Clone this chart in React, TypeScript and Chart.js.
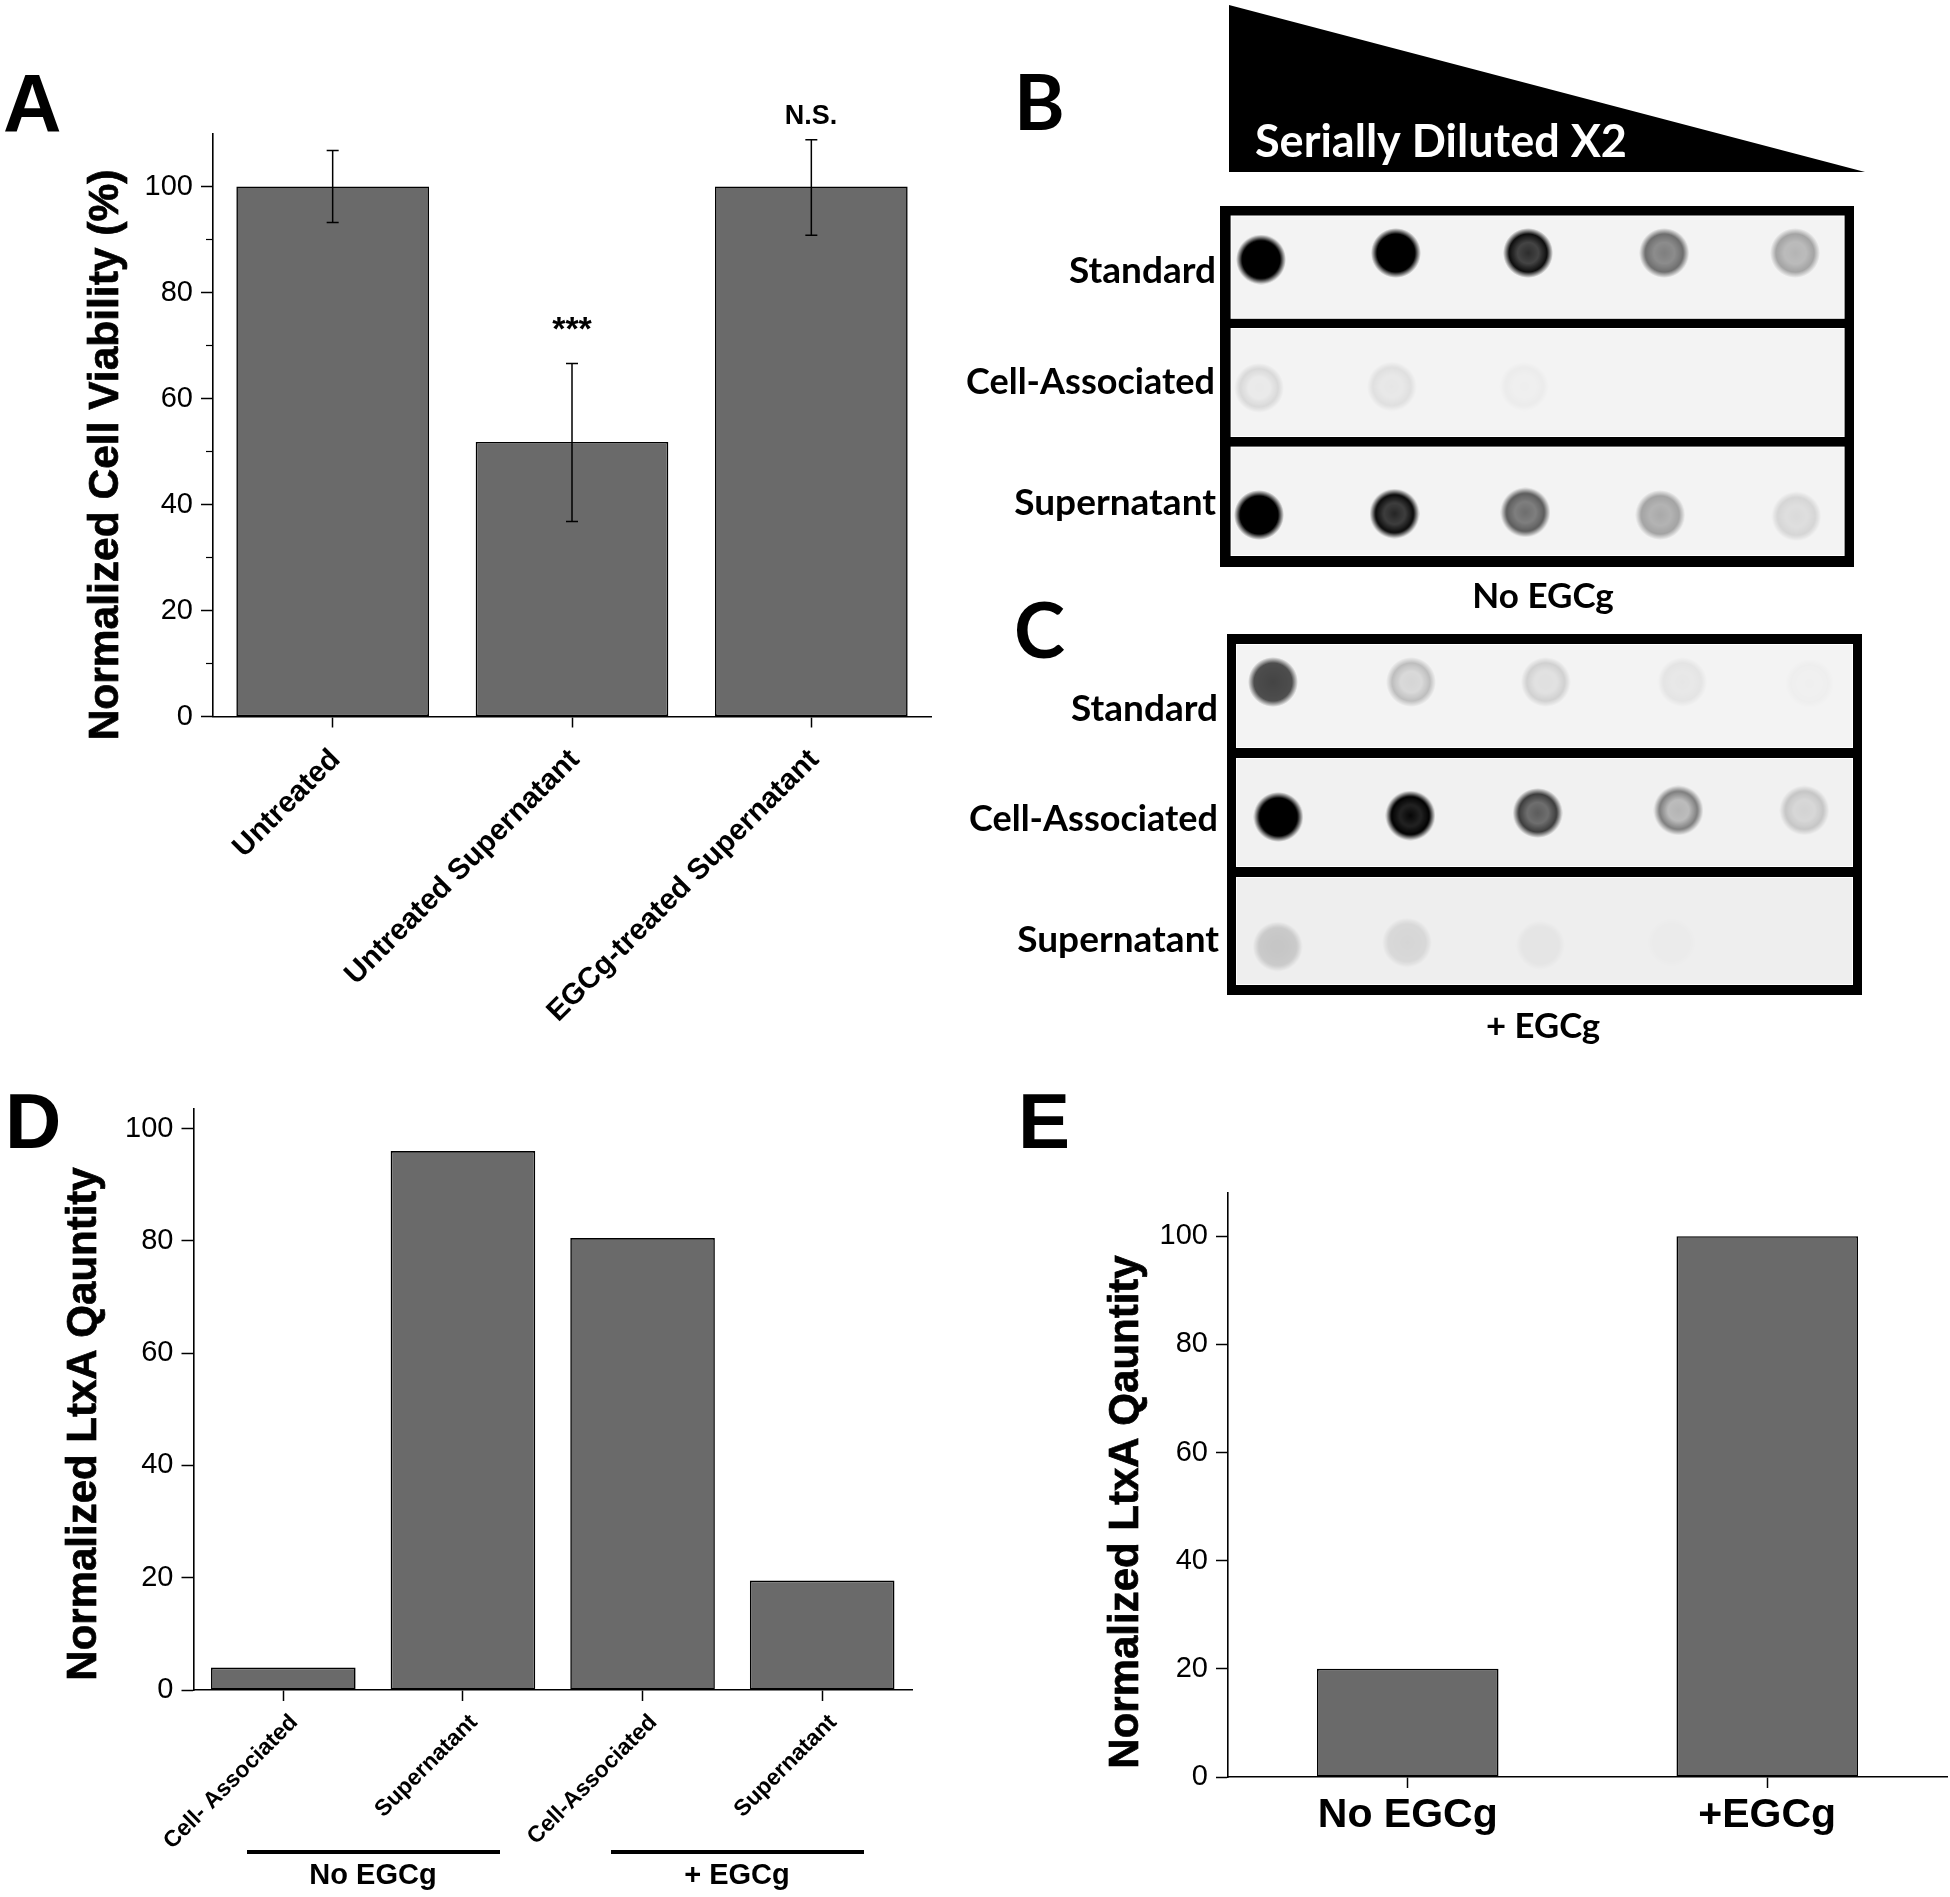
import React, { useEffect, useRef } from "react";
import { Chart, registerables } from "chart.js";

Chart.register(...registerables);

// ---------- Panel A ----------
const viabilityCategories = ["Untreated", "Untreated Supernatant", "EGCg-treated Supernatant"];
const viabilityValues = [100, 51.8, 100];
const viabilityErrLow = [93.2, 36.8, 90.8];
const viabilityErrHigh = [106.8, 66.6, 108.8];
const viabilityMinorTicks = [10, 30, 50, 70, 90];

// ---------- Panel D ----------
const fractionCategories = ["Cell- Associated", "Supernatant", "Cell-Associated", "Supernatant"];
const fractionValues = [4, 96, 80.5, 19.5];

// ---------- Panel E ----------
const totalCategories = ["No EGCg", "+EGCg"];
const totalValues = [20, 100];

// ---------- Panels B, C: dot blots (x = dilution step, y = row) ----------
const bStandardX = [1.0, 2.01, 3.0, 4.02, 5.0];
const bStandardY = [1.05, 1.0, 1.0, 1.0, 1.0];
const bStandardCore = [1, 1, 0.82, 0.48, 0.26];
const bStandardRim = [1, 1, 0.95, 0.55, 0.33];

const bCellX = [0.985, 1.98, 2.97];
const bCellY = [2.03, 2.02, 2.02];
const bCellCore = [0.04, 0.05, 0.02];
const bCellRim = [0.11, 0.08, 0.03];

const bSuperX = [0.985, 2.0, 2.98, 3.99, 5.01];
const bSuperY = [3.0, 2.99, 2.98, 3.0, 3.01];
const bSuperCore = [1, 0.85, 0.55, 0.3, 0.1];
const bSuperRim = [1, 0.96, 0.62, 0.33, 0.12];

const cStandardX = [0.985, 2.015, 3.02, 4.04, 4.99];
const cStandardY = [1, 1, 1, 1, 1.01];
const cStandardCore = [0.72, 0.12, 0.08, 0.05, 0.015];
const cStandardRim = [0.68, 0.22, 0.14, 0.06, 0.02];

const cCellX = [1.025, 2.01, 2.96, 4.01, 4.95];
const cCellY = [2.03, 2.02, 2.0, 1.98, 1.98];
const cCellCore = [1, 0.98, 0.62, 0.25, 0.12];
const cCellRim = [1, 1, 0.75, 0.48, 0.18];

const cSuperX = [1.02, 1.985, 2.98, 3.955];
const cSuperY = [3.02, 2.99, 3.01, 2.99];
const cSuperCore = [0.17, 0.1, 0.035, 0.01];
const cSuperRim = [0.15, 0.09, 0.035, 0.01];

const BAR_GREY = "#6a6a6a";
const ARIAL = '"Liberation Sans", Arial, sans-serif';
const LATO = 'Lato, "Open Sans", sans-serif';

type Label = {
  t: string; x: number; y: number; font: string; align?: CanvasTextAlign;
  rot?: number; color?: string; maxW?: number; stroke?: number;
};

type Box = { x: number; y: number; w: number; h: number };

const textPlugin = {
  id: "pageTexts",
  afterDraw(chart: any, _a: any, opts: any) {
    const { ctx } = chart;
    const box: Box = opts.box;
    (opts.items as Label[]).forEach((l) => {
      ctx.save();
      ctx.translate(l.x - box.x, l.y - box.y);
      if (l.rot) ctx.rotate(l.rot);
      ctx.font = l.font;
      ctx.fillStyle = l.color || "#000";
      ctx.textAlign = l.align || "left";
      ctx.textBaseline = "alphabetic";
      if (l.stroke) {
        ctx.strokeStyle = l.color || "#000";
        ctx.lineWidth = l.stroke;
        ctx.strokeText(l.t, 0, 0);
      }
      if (l.maxW) ctx.fillText(l.t, 0, 0, l.maxW);
      else ctx.fillText(l.t, 0, 0);
      ctx.restore();
    });
  },
};

const errorBarPlugin = {
  id: "errorBars",
  afterDatasetsDraw(chart: any, _a: any, opts: any) {
    if (!opts.low) return;
    const { ctx, scales } = chart;
    ctx.save();
    ctx.strokeStyle = "#000";
    ctx.lineWidth = 1.5;
    (opts.low as number[]).forEach((lo, i) => {
      const x = scales.x.getPixelForTick(i);
      const y1 = scales.y.getPixelForValue(lo);
      const y2 = scales.y.getPixelForValue(opts.high[i]);
      ctx.beginPath();
      ctx.moveTo(x, y1); ctx.lineTo(x, y2);
      ctx.moveTo(x - 6, y1); ctx.lineTo(x + 6, y1);
      ctx.moveTo(x - 6, y2); ctx.lineTo(x + 6, y2);
      ctx.stroke();
    });
    ctx.restore();
  },
};

const minorTickPlugin = {
  id: "minorTicks",
  afterDraw(chart: any, _a: any, opts: any) {
    if (!opts.values) return;
    const { ctx, scales, chartArea } = chart;
    ctx.save();
    ctx.strokeStyle = "#000";
    ctx.lineWidth = 1.2;
    (opts.values as number[]).forEach((v) => {
      const y = scales.y.getPixelForValue(v);
      ctx.beginPath();
      ctx.moveTo(chartArea.left - 7, y);
      ctx.lineTo(chartArea.left, y);
      ctx.stroke();
    });
    ctx.restore();
  },
};

const shapesPlugin = {
  id: "pageShapes",
  beforeDatasetsDraw(chart: any, _a: any, opts: any) {
    const { ctx } = chart;
    const box: Box = opts.box;
    ctx.save();
    ctx.translate(-box.x, -box.y);
    (opts.polys || []).forEach((p: number[]) => {
      ctx.fillStyle = "#000";
      ctx.beginPath();
      ctx.moveTo(p[0], p[1]);
      for (let i = 2; i < p.length; i += 2) ctx.lineTo(p[i], p[i + 1]);
      ctx.closePath();
      ctx.fill();
    });
    (opts.rects || []).forEach((r: any) => {
      ctx.fillStyle = r.c;
      ctx.fillRect(r.x, r.y, r.w, r.h);
      if (r.strip) {
        ctx.fillStyle = r.strip;
        ctx.fillRect(r.x + 1, r.y + 1, r.w - 2, r.h - 2);
      }
    });
    ctx.restore();
  },
};

function spotSprite(core: number, rim: number): HTMLCanvasElement {
  const R = 25;
  const c = document.createElement("canvas");
  c.width = c.height = R * 2;
  const g = c.getContext("2d")!;
  const grad = g.createRadialGradient(R, R, 0, R, R, R);
  // spots whose centre is paler than the rim show a paler ring between them
  const mid = core < rim ? Math.min(core, rim) * 0.88 : (core + rim) / 2;
  grad.addColorStop(0, `rgba(0,0,0,${core})`);
  grad.addColorStop(0.42, `rgba(0,0,0,${mid})`);
  grad.addColorStop(0.76, `rgba(0,0,0,${rim})`);
  grad.addColorStop(1, "rgba(0,0,0,0)");
  g.fillStyle = grad;
  g.beginPath();
  g.arc(R, R, R, 0, Math.PI * 2);
  g.fill();
  return c;
}

function rowDataset(label: string, xs: number[], ys: number[], core: number[], rim: number[]) {
  return {
    label,
    data: xs.map((x, i) => ({ x, y: ys[i] })),
    pointStyle: xs.map((_, i) => spotSprite(core[i], rim[i])),
    pointRadius: 25,
    showLine: false,
  };
}

function axisTitle(t: string, x: number, y: number, size: number): Label {
  return { t, x, y, font: `bold ${size}px ${ARIAL}`, align: "center", rot: -Math.PI / 2, stroke: 0.7 };
}

function barChart(
  canvas: HTMLCanvasElement,
  box: Box,
  area: { l: number; t: number; r: number; b: number },
  data: { labels: string[]; values: number[]; yMax: number; barPct: number },
  style: { tickFont: any; rotation: number; tickPadX: number; tickLen: number; labelOffset: number; xHeight: number },
  texts: Label[],
  extra: any,
) {
  const Y_W = 80;
  const X_H = style.xHeight;
  return new Chart(canvas, {
    type: "bar",
    data: {
      labels: data.labels,
      datasets: [{
        data: data.values,
        backgroundColor: BAR_GREY,
        borderColor: "#000",
        borderWidth: 1.6,
        borderSkipped: false,
        barPercentage: data.barPct,
        categoryPercentage: 1,
      }],
    },
    options: {
      animation: false,
      responsive: false,
      layout: {
        padding: {
          left: area.l - box.x - Y_W,
          top: area.t - box.y,
          right: box.x + box.w - area.r,
          bottom: box.y + box.h - area.b - X_H,
        },
      },
      plugins: {
        legend: { display: false },
        tooltip: { enabled: false },
        pageTexts: { box, items: texts },
        pageShapes: { box, rects: extra.rects || [] },
        errorBars: { low: extra.low, high: extra.high },
        minorTicks: { values: extra.minor },
      } as any,
      scales: {
        x: {
          afterFit: (s: any) => { s.height = X_H; },
          grid: { offset: false, drawOnChartArea: false, tickLength: style.tickLen, tickColor: "#000", tickWidth: 1.5 },
          border: { color: "#000", width: 1.6 },
          ticks: {
            color: "#000",
            font: style.tickFont,
            autoSkip: false,
            minRotation: style.rotation,
            maxRotation: style.rotation,
            padding: style.tickPadX,
            labelOffset: style.labelOffset,
          },
        },
        y: {
          min: 0,
          max: data.yMax,
          afterFit: (s: any) => { s.width = Y_W; },
          grid: { drawOnChartArea: false, tickLength: 12, tickColor: "#000", tickWidth: 1.5 },
          border: { color: "#000", width: 1.6 },
          ticks: {
            color: "#000",
            stepSize: 20,
            includeBounds: false,
            padding: 8,
            font: { family: ARIAL, size: 29 },
          },
        },
      } as any,
    },
    plugins: [textPlugin, errorBarPlugin, minorTickPlugin, shapesPlugin],
  } as any);
}

function blotChart(
  canvas: HTMLCanvasElement,
  box: Box,
  inner: { l: number; t: number; r: number; b: number },
  range: { xMin: number; xMax: number; yMin: number; yMax: number },
  datasets: any[],
  shapes: { polys?: number[][]; rects: any[] },
  texts: Label[],
) {
  return new Chart(canvas, {
    type: "scatter",
    data: { datasets },
    options: {
      animation: false,
      responsive: false,
      layout: {
        padding: {
          left: inner.l - box.x,
          top: inner.t - box.y,
          right: box.x + box.w - inner.r,
          bottom: box.y + box.h - inner.b,
        },
      },
      plugins: {
        legend: { display: false },
        tooltip: { enabled: false },
        pageTexts: { box, items: texts },
        pageShapes: { box, ...shapes },
      } as any,
      scales: {
        x: { type: "linear", display: false, min: range.xMin, max: range.xMax },
        y: { type: "linear", display: false, min: range.yMin, max: range.yMax, reverse: true },
      },
    },
    plugins: [textPlugin, shapesPlugin],
  } as any);
}

const STRIP = "#f3f3f3";
const EDGE = "#ffffff";

const boxes: Record<string, Box> = {
  a: { x: 0, y: 0, w: 960, h: 1060 },
  b: { x: 960, y: 0, w: 990, h: 622 },
  c: { x: 960, y: 590, w: 990, h: 470 },
  d: { x: 0, y: 1060, w: 955, h: 837 },
  e: { x: 960, y: 1060, w: 990, h: 837 },
};

export default function App() {
  const refs = {
    a: useRef<HTMLCanvasElement>(null),
    b: useRef<HTMLCanvasElement>(null),
    c: useRef<HTMLCanvasElement>(null),
    d: useRef<HTMLCanvasElement>(null),
    e: useRef<HTMLCanvasElement>(null),
  };

  useEffect(() => {
    const charts: Chart[] = [];
    const labelBold = (s: number) => `bold ${s}px ${ARIAL}`;
    const lato = (s: number) => `bold ${s}px ${LATO}`;

    charts.push(barChart(
      refs.a.current!, boxes.a,
      { l: 213, t: 133.5, r: 931, b: 716.5 },
      { labels: viabilityCategories, values: viabilityValues, yMax: 110, barPct: 0.805 },
      { tickFont: { family: ARIAL, size: 29.5, weight: "bold" }, rotation: 45, tickPadX: 15, tickLen: 11, labelOffset: 3, xHeight: 320 },
      [
        { t: "A", x: 3, y: 131, font: labelBold(81) },
        axisTitle("Normalized Cell Viability (%)", 118, 455, 42.5),
        { t: "N.S.", x: 811, y: 124, font: labelBold(27), align: "center" },
        { t: "***", x: 572, y: 340, font: labelBold(34), align: "center" },
      ],
      { low: viabilityErrLow, high: viabilityErrHigh, minor: viabilityMinorTicks },
    ) as any);

    charts.push(blotChart(
      refs.b.current!, boxes.b,
      { l: 1230.6, t: 215.5, r: 1844.7, b: 556 },
      { xMin: 0.772, xMax: 5.372, yMin: 0.714, yMax: 3.313 },
      [
        rowDataset("Standard", bStandardX, bStandardY, bStandardCore, bStandardRim),
        rowDataset("Cell-Associated", bCellX, bCellY, bCellCore, bCellRim),
        rowDataset("Supernatant", bSuperX, bSuperY, bSuperCore, bSuperRim),
      ],
      {
        polys: [[1229, 5, 1229, 172, 1865, 172]],
        rects: [
          { x: 1220, y: 206, w: 634, h: 361, c: "#000" },
          { x: 1230.6, y: 215.5, w: 614, h: 103.3, c: EDGE, strip: STRIP },
          { x: 1230.6, y: 328, w: 614, h: 109, c: EDGE, strip: STRIP },
          { x: 1230.6, y: 446.6, w: 614, h: 109.4, c: EDGE, strip: STRIP },
        ],
      },
      [
        { t: "B", x: 1014, y: 130, font: lato(77) },
        { t: "Serially Diluted X2", x: 1255, y: 157, font: lato(45), color: "#fff", maxW: 374 },
        { t: "Standard", x: 1216, y: 283, font: lato(37), align: "right", maxW: 149 },
        { t: "Cell-Associated", x: 1215, y: 394, font: lato(37), align: "right", maxW: 249 },
        { t: "Supernatant", x: 1216, y: 515, font: lato(37), align: "right", maxW: 204 },
        { t: "No EGCg", x: 1543, y: 608, font: lato(35), align: "center", maxW: 142 },
      ],
    ) as any);

    charts.push(blotChart(
      refs.c.current!, boxes.c,
      { l: 1236, t: 644, r: 1853, b: 985 },
      { xMin: 0.709, xMax: 5.313, yMin: 0.71, yMax: 3.313 },
      [
        rowDataset("Standard", cStandardX, cStandardY, cStandardCore, cStandardRim),
        rowDataset("Cell-Associated", cCellX, cCellY, cCellCore, cCellRim),
        rowDataset("Supernatant", cSuperX, cSuperY, cSuperCore, cSuperRim),
      ],
      {
        rects: [
          { x: 1227, y: 634, w: 635, h: 361, c: "#000" },
          { x: 1236, y: 644, w: 617, h: 104, c: EDGE, strip: STRIP },
          { x: 1236, y: 758, w: 617, h: 109, c: EDGE, strip: "#f1f1f1" },
          { x: 1236, y: 877, w: 617, h: 108, c: EDGE, strip: "#eeeeee" },
        ],
      },
      [
        { t: "C", x: 1014, y: 658, font: lato(77) },
        { t: "Standard", x: 1218, y: 721, font: lato(37), align: "right", maxW: 149 },
        { t: "Cell-Associated", x: 1218, y: 831, font: lato(37), align: "right", maxW: 249 },
        { t: "Supernatant", x: 1219, y: 952, font: lato(37), align: "right", maxW: 204 },
        { t: "+ EGCg", x: 1543, y: 1038, font: lato(35), align: "center", maxW: 114 },
      ],
    ) as any);

    charts.push(barChart(
      refs.d.current!, boxes.d,
      { l: 193.5, t: 1109, r: 912, b: 1690 },
      { labels: fractionCategories, values: fractionValues, yMax: 103.5, barPct: 0.805 },
      { tickFont: { family: ARIAL, size: 23, weight: "bold" }, rotation: 45, tickPadX: 8, tickLen: 11, labelOffset: 11, xHeight: 170 },
      [
        { t: "D", x: 5, y: 1148, font: labelBold(78) },
        axisTitle("Normalized LtxA Qauntity", 96, 1424, 42),
        { t: "No EGCg", x: 373, y: 1884, font: labelBold(29), align: "center" },
        { t: "+ EGCg", x: 737, y: 1884, font: labelBold(29), align: "center" },
      ],
      {
        rects: [
          { x: 247, y: 1850, w: 253, h: 4, c: "#000" },
          { x: 611, y: 1850, w: 253, h: 4, c: "#000" },
        ],
      },
    ) as any);

    charts.push(barChart(
      refs.e.current!, boxes.e,
      { l: 1228, t: 1193, r: 1947, b: 1777 },
      { labels: totalCategories, values: totalValues, yMax: 108, barPct: 0.505 },
      { tickFont: { family: ARIAL, size: 41, weight: "bold" }, rotation: 0, tickPadX: 3, tickLen: 11, labelOffset: 0, xHeight: 100 },
      [
        { t: "E", x: 1018, y: 1148, font: labelBold(78) },
        axisTitle("Normalized LtxA Qauntity", 1138, 1512, 42),
      ],
      {},
    ) as any);

    return () => charts.forEach((c) => c.destroy());
  }, []);

  return (
    <div style={{ position: "absolute", left: 0, top: 0, width: 1950, height: 1897, background: "#fff" }}>
      {(Object.keys(boxes) as (keyof typeof refs)[]).map((k) => (
        <canvas
          key={k}
          ref={refs[k]}
          width={boxes[k].w}
          height={boxes[k].h}
          style={{ position: "absolute", left: boxes[k].x, top: boxes[k].y, width: boxes[k].w, height: boxes[k].h }}
        />
      ))}
    </div>
  );
}
